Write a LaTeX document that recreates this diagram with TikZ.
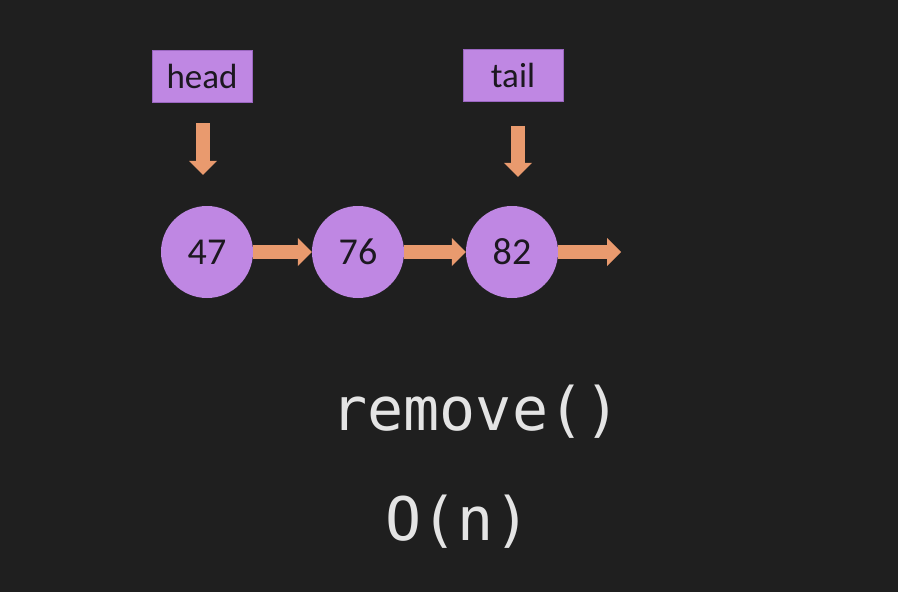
\documentclass[tikz,border=0pt]{standalone}
\usepackage{fontspec}
\setmainfont{Carlito}
\setmonofont{DejaVu Sans Mono}
\usetikzlibrary{arrows.meta}
\definecolor{bg}{HTML}{1F1F1F}
\definecolor{nodefill}{HTML}{BF87E3}
\definecolor{nodeedge}{HTML}{9A66C0}
\definecolor{ink}{HTML}{1C1820}
\definecolor{pointer}{HTML}{E99A6E}
\definecolor{codetext}{HTML}{E4E4E4}
\begin{document}
\begin{tikzpicture}[x=1pt,y=-1pt,
  refbox/.style={draw=nodeedge, line width=0.8pt, fill=nodefill,
    minimum width=100pt, minimum height=52pt, inner sep=0pt, text=ink,
    font=\fontsize{35}{42}\selectfont},
  listnode/.style={circle, fill=nodefill, minimum size=92pt, inner sep=0pt,
    text=ink, font=\fontsize{38}{46}\selectfont},
  link/.style={draw=pointer, line width=14pt,
    -{Triangle[width=28pt,length=14pt,line width=0pt]}},
  code/.style={text=codetext, font=\ttfamily\fontsize{60}{70}\selectfont,
    anchor=base, inner sep=0pt}]
% background
\fill[bg] (0,0) rectangle (898,592);
\useasboundingbox (0,0) rectangle (898,592);

% pointer labels
\node[refbox] (head) at (202,76) {head};
\node[refbox] (tail) at (513,75.5) {tail};

% list nodes
\node[listnode] (c47) at (207,252) {47};
\node[listnode] (c76) at (358,252) {76};
\node[listnode] (c82) at (512,252) {82};
\coordinate (nil) at (621,252);

% next links
\draw[link] (c47) -- (c76);
\draw[link] (c76) -- (c82);
\draw[link] (c82) -- (nil);

% head / tail pointers
\draw[link, shorten <=21pt, shorten >=31pt]
  ([xshift=1pt]head.south) -- ([xshift=1pt]head.south |- c47.north);
\draw[link, shorten <=24pt, shorten >=29pt]
  ([xshift=5pt]tail.south) -- ([xshift=5pt]tail.south |- c82.north);

% operation and its cost
\node[code] (op) at (476,430) {remove()};
\node[code] (cost) at (458,540) {O(n)};
\end{tikzpicture}
\end{document}
